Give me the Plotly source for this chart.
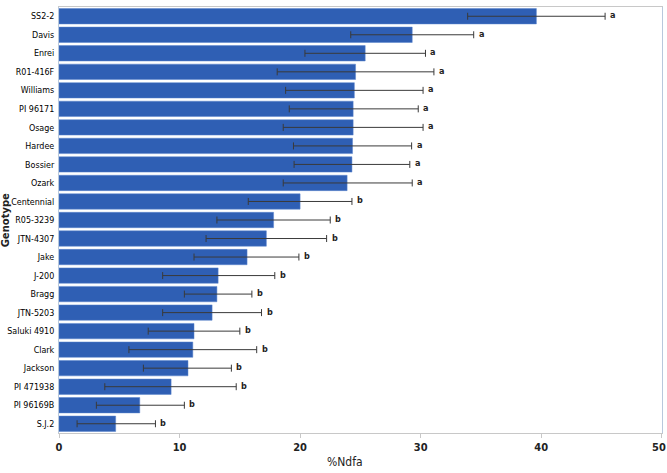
import plotly.graph_objects as go

genotypes = ["SS2-2", "Davis", "Enrei", "R01-416F", "Williams", "PI 96171", "Osage",
             "Hardee", "Bossier", "Ozark", "Centennial", "R05-3239", "JTN-4307", "Jake",
             "J-200", "Bragg", "JTN-5203", "Saluki 4910", "Clark", "Jackson",
             "PI 471938", "PI 96169B", "S.J.2"]
ndfa = [39.6, 29.3, 25.4, 24.6, 24.5, 24.4, 24.4, 24.35, 24.3, 23.9, 20.0, 17.8, 17.2,
        15.6, 13.2, 13.1, 12.7, 11.2, 11.1, 10.7, 9.3, 6.7, 4.7]
err_plus = [5.7, 5.1, 5.0, 6.5, 5.7, 5.4, 5.8, 4.9, 4.8, 5.4, 4.3, 4.7, 5.0, 4.3, 4.7,
            2.9, 4.1, 3.8, 5.3, 3.6, 5.4, 3.7, 3.3]
err_minus = [5.7, 5.1, 5.0, 6.5, 5.7, 5.3, 5.8, 4.9, 4.8, 5.3, 4.3, 4.7, 5.0, 4.4, 4.6,
             2.7, 4.1, 3.8, 5.3, 3.7, 5.5, 3.6, 3.2]
groups = ["a"] * 10 + ["b"] * 13
x_ticks = [0, 10, 20, 30, 40, 50]

NARROW = "DejaVu Sans Condensed"

fig = go.Figure()
fig.add_trace(go.Bar(
    y=genotypes, x=ndfa, orientation="h",
    marker=dict(color="#2F5FB4", line=dict(color="#5B84CC", width=0.5)),
    error_x=dict(type="data", array=err_plus, arrayminus=err_minus,
                 color="#3a3a3a", thickness=1, width=3.5),
    hoverinfo="x+y",
))

annotations = [
    dict(x=v + e, y=g, xref="x", yref="y", text=t, showarrow=False,
         xanchor="left", yanchor="middle", xshift=3, yshift=1,
         font=dict(family=NARROW, size=9, color="#222", weight="bold"))
    for g, v, e, t in zip(genotypes, ndfa, err_plus, groups)
]
annotations += [
    dict(text="<b>Genotype</b>", xref="paper", yref="paper", x=-0.089, y=0.5,
         textangle=-90, showarrow=False, xanchor="center", yanchor="middle",
         font=dict(family="DejaVu Sans", size=10, color="#222")),
    dict(text="%Ndfa", xref="paper", yref="paper", x=0.475, y=-0.068,
         showarrow=False, xanchor="center", yanchor="middle",
         font=dict(family=NARROW, size=12, color="#222")),
    dict(text=str(x_ticks[-1]), xref="x", yref="paper", x=x_ticks[-1], y=-0.015,
         showarrow=False, xanchor="center", yanchor="top", xshift=-3,
         font=dict(family=NARROW, size=11, color="#222", weight="bold")),
]

fig.update_layout(
    width=667, height=473,
    margin=dict(l=59, r=5, t=7, b=40, autoexpand=False),
    plot_bgcolor="white", paper_bgcolor="white",
    showlegend=False,
    bargap=0.17,
    font=dict(family=NARROW, size=10, color="#222"),
    xaxis=dict(range=[0, 50.02], tickvals=x_ticks, showgrid=False,
               zeroline=False, showline=True, linecolor="#c8c8c8", linewidth=1,
               mirror=True, ticks="outside", ticklen=4, tickcolor="#c8c8c8",
               automargin=False,
               tickfont=dict(family=NARROW, size=11, color="#222", weight="bold")),
    yaxis=dict(autorange="reversed", showgrid=False, zeroline=False,
               showline=True, linecolor="#b8c8dc", linewidth=1, mirror=True,
               ticks="", ticklabelstandoff=2, automargin=False,
               tickfont=dict(family=NARROW, size=8.9, color="#000")),
    annotations=annotations,
)

fig.write_html("out.html")
